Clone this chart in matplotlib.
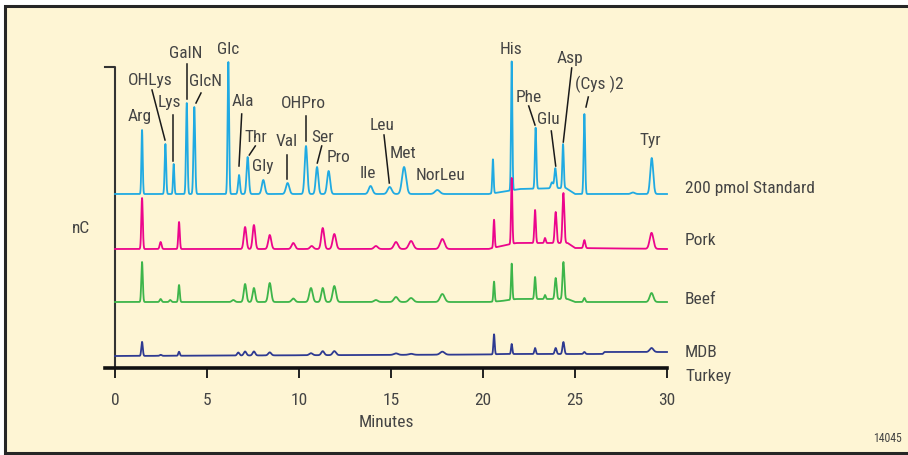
import numpy as np
import matplotlib
matplotlib.use("Agg")
import matplotlib.pyplot as plt
from matplotlib.patches import Rectangle
from matplotlib import font_manager

# ---------------- data ----------------
minutes_ticks = [0, 5, 10, 15, 20, 25, 30]

# 200 pmol standard: retention time (min), peak height (signal units), width (min)
std_names = ["Arg", "OHLys", "Lys", "GalN", "GlcN", "Glc", "Ala", "Thr", "Gly", "Val",
             "OHPro", "Ser", "Pro", "Ile", "Leu", "Met", "NorLeu", None, "His", "Phe",
             "Glu", None, "Asp", "(Cys )2", None, "Tyr"]
std_times = [1.47, 2.74, 3.19, 3.90, 4.31, 6.16, 6.74, 7.21, 8.06, 9.38,
             10.38, 10.98, 11.61, 13.89, 14.93, 15.71, 17.52, 20.54, 21.56, 22.86,
             23.93, 23.75, 24.35, 25.51, 28.15, 29.17]
std_heights = [64, 50, 30, 91, 87, 132, 19, 37, 14, 11,
               48, 27, 23, 8, 7, 27, 4, 34, 129, 61,
               20, 6, 44, 80, 1.5, 36]
std_widths = [0.035, 0.04, 0.035, 0.04, 0.045, 0.04, 0.05, 0.06, 0.08, 0.09,
              0.07, 0.07, 0.08, 0.1, 0.11, 0.11, 0.13, 0.035, 0.035, 0.04,
              0.05, 0.06, 0.04, 0.04, 0.1, 0.08]
std_drift_t = [0, 20.3, 21.0, 22.0, 24.5, 25.0, 30]
std_drift_v = [0, 0, 2, 5, 6, 0, 0]

pork_times = [1.47, 2.48, 3.48, 7.07, 7.55, 8.41, 9.69, 10.69, 11.29, 11.92, 14.18,
              15.27, 16.09, 17.79, 20.60, 21.56, 22.83, 23.37, 23.95, 24.37, 25.51, 29.16]
pork_heights = [51, 7, 27, 22, 24, 14, 6, 3, 21, 15, 3,
                7, 8, 10, 28, 66, 33, 5, 31, 50, 8, 16]
pork_widths = [0.04, 0.05, 0.04, 0.07, 0.07, 0.08, 0.09, 0.09, 0.08, 0.09, 0.1,
               0.11, 0.12, 0.12, 0.035, 0.035, 0.04, 0.04, 0.05, 0.05, 0.05, 0.1]
pork_drift_t = [0, 20.3, 21.0, 21.8, 24.6, 25.0, 30]
pork_drift_v = [0, 0, 3, 6, 6, 1, 0]

beef_times = [1.47, 2.48, 3.0, 3.48, 6.43, 7.07, 7.55, 8.41, 9.69, 10.65, 11.29, 11.92,
              14.18, 15.27, 16.09, 17.79, 20.60, 21.56, 22.83, 23.37, 23.95, 24.37, 25.51, 29.16]
beef_heights = [40, 3, 2, 17, 2, 18, 14, 19, 3.5, 14, 14, 16,
                2, 5, 4, 8, 20, 36, 22, 4, 21, 37, 4, 9]
beef_widths = [0.04, 0.05, 0.05, 0.04, 0.08, 0.07, 0.07, 0.08, 0.09, 0.09, 0.08, 0.09,
               0.1, 0.11, 0.12, 0.12, 0.035, 0.035, 0.04, 0.04, 0.05, 0.05, 0.05, 0.1]
beef_drift_t = [0, 20.3, 21.0, 21.8, 24.6, 25.0, 30]
beef_drift_v = [0, 0, 1, 3, 3, 0, 0]

mdb_times = [1.47, 2.48, 3.48, 6.70, 7.07, 7.55, 8.41, 10.65, 11.29, 11.92, 15.27,
             16.09, 17.79, 20.60, 21.56, 22.83, 23.95, 24.37, 25.51, 29.16]
mdb_heights = [14, 1, 4, 3, 4, 4, 3, 2, 4, 4, 1.5,
               1, 3, 20, 10, 6, 6, 12, 2, 4]
mdb_widths = [0.04, 0.05, 0.04, 0.06, 0.07, 0.07, 0.08, 0.09, 0.08, 0.09, 0.11,
              0.12, 0.12, 0.035, 0.035, 0.04, 0.05, 0.05, 0.05, 0.1]
mdb_drift_t = [0, 20.3, 21.0, 26.5, 26.6, 30]
mdb_drift_v = [0, 1.5, 2, 2, 4, 4]

series_labels = ["200 pmol Standard", "Pork", "Beef", "MDB\nTurkey"]

# ---------------- style / layout ----------------
W, H, DPI = 908, 456, 100
X0_PX, PX_PER_MIN = 115, 18.4       # minute 0 at px 115
AX_BOTTOM_PX, AX_TOP_PX = 369, 67

colors = ["#20AAE2", "#EC058C", "#3DB54A", "#2E3A91"]
baseline_px = [195, 250, 303, 357]
bg = "#FEF5D4"
txt = "#444444"

avail = {f.name for f in font_manager.fontManager.ttflist}
fam = [f for f in ["Liberation Sans Narrow", "Roboto Condensed", "Liberation Sans", "DejaVu Sans"] if f in avail]
plt.rcParams["font.family"] = fam

def xd(px):
    return (px - X0_PX) / PX_PER_MIN

def yd(py):
    return AX_BOTTOM_PX - py

fig = plt.figure(figsize=(W / DPI, H / DPI), dpi=DPI, facecolor="white")
fig.patches.append(Rectangle((5 / W, 2 / H), 1.2, (454 - 7) / H, transform=fig.transFigure,
                             facecolor=bg, edgecolor="#262626", linewidth=2.2, zorder=-10))

ax_left_px = X0_PX - 10
ax = fig.add_axes([ax_left_px / W, (H - AX_BOTTOM_PX) / H, (667 - ax_left_px) / W,
                   (AX_BOTTOM_PX - AX_TOP_PX) / H])
ax.set_facecolor("none")
ax.set_xlim(xd(ax_left_px), 30)
ax.set_ylim(0, AX_BOTTOM_PX - AX_TOP_PX)

t = np.linspace(0, 30, 6000)

def trace(times, heights, widths, dt, dv):
    y = np.interp(t, dt, dv)
    for tc, h, w in zip(times, heights, widths):
        y = y + h * np.exp(-0.5 * ((t - tc) / w) ** 2)
    return y

all_series = [
    (std_times, std_heights, std_widths, std_drift_t, std_drift_v),
    (pork_times, pork_heights, pork_widths, pork_drift_t, pork_drift_v),
    (beef_times, beef_heights, beef_widths, beef_drift_t, beef_drift_v),
    (mdb_times, mdb_heights, mdb_widths, mdb_drift_t, mdb_drift_v),
]
for (tt, hh, ww, dt, dv), c, bpx in zip(all_series, colors, baseline_px):
    y = trace(tt, hh, ww, dt, dv)
    ax.plot(t, yd(bpx) + y, color=c, lw=1.3, clip_on=False, zorder=3)

# axes styling
for s in ["left", "top", "right"]:
    ax.spines[s].set_visible(False)
ax.spines["bottom"].set_linewidth(2.6)
ax.spines["bottom"].set_color("#111111")
ax.set_yticks([])
ax.set_xticks(minutes_ticks)
ax.set_xticklabels([str(v) for v in minutes_ticks], fontsize=12.5, color=txt)
ax.tick_params(axis="x", direction="out", length=7.5, width=1.4, color="#222222", pad=10)
ax.set_xlabel("Minutes", fontsize=12.5, color=txt, labelpad=5)

# y-axis bracket line
ax.plot([xd(105), 0, 0], [yd(68), yd(68), 0], color="#333333", lw=1.5, clip_on=False, zorder=2)
ax.text(xd(81), yd(229), "nC", fontsize=12.5, color=txt, ha="center", va="center")

# peak labels (pixel-layout positions)
label_pos = {
    "Arg": (140, 117), "OHLys": (150, 80), "Lys": (169, 103), "GalN": (186, 54),
    "GlcN": (205, 82), "Glc": (228, 50), "Ala": (243, 102), "Thr": (256, 137),
    "Gly": (263, 167), "Val": (287, 142), "OHPro": (303, 103), "Ser": (323, 137),
    "Pro": (338, 158), "Ile": (368, 174), "Leu": (382, 125), "Met": (403, 154),
    "NorLeu": (440, 175), "His": (511, 49), "Phe": (529, 97), "Glu": (548, 119),
    "Asp": (570, 59), "(Cys )2": (599, 84), "Tyr": (650, 140),
}
for name in std_names:
    if name is None:
        continue
    px, py = label_pos[name]
    ax.text(xd(px), yd(py), name, fontsize=12.5, color=txt, ha="center", va="center",
            clip_on=False)

leaders = [
    ((152, 91), (165, 141)), ((173.3, 116), (173.3, 162)), ((186.7, 65), (186.7, 100)),
    ((201, 94), (196, 104)), ((241.7, 115), (239, 167)), ((255.3, 147), (249.3, 156)),
    ((287.3, 156), (287.3, 180)), ((306, 117), (306, 142)), ((321.7, 147), (317.3, 164)),
    ((384, 136), (389.3, 184)), ((528.7, 107), (535, 126)), ((551.3, 132), (555.7, 167)),
    ((571.7, 69), (563.3, 143)), ((588.3, 98), (586, 108)),
]
for (x1, y1), (x2, y2) in leaders:
    ax.plot([xd(x1), xd(x2)], [yd(y1), yd(y2)], color="#1a1a1a", lw=1.1, clip_on=False, zorder=4)

# series labels
label_y_px = [189, 241, 300, 353]
for lab, py in zip(series_labels, label_y_px):
    if "\n" in lab:
        a, b = lab.split("\n")
        ax.text(xd(685), yd(py), a, fontsize=12.5, color=txt, ha="left", va="center", clip_on=False)
        ax.text(xd(685), yd(377), b, fontsize=12.5, color=txt, ha="left", va="center", clip_on=False)
    else:
        ax.text(xd(685), yd(py), lab, fontsize=12.5, color=txt, ha="left", va="center", clip_on=False)

fig.text(888 / W, 1 - 439 / H, "14045", fontsize=8.5, color=txt, ha="center", va="center")

fig.savefig("out.png", dpi=DPI, facecolor="white")
